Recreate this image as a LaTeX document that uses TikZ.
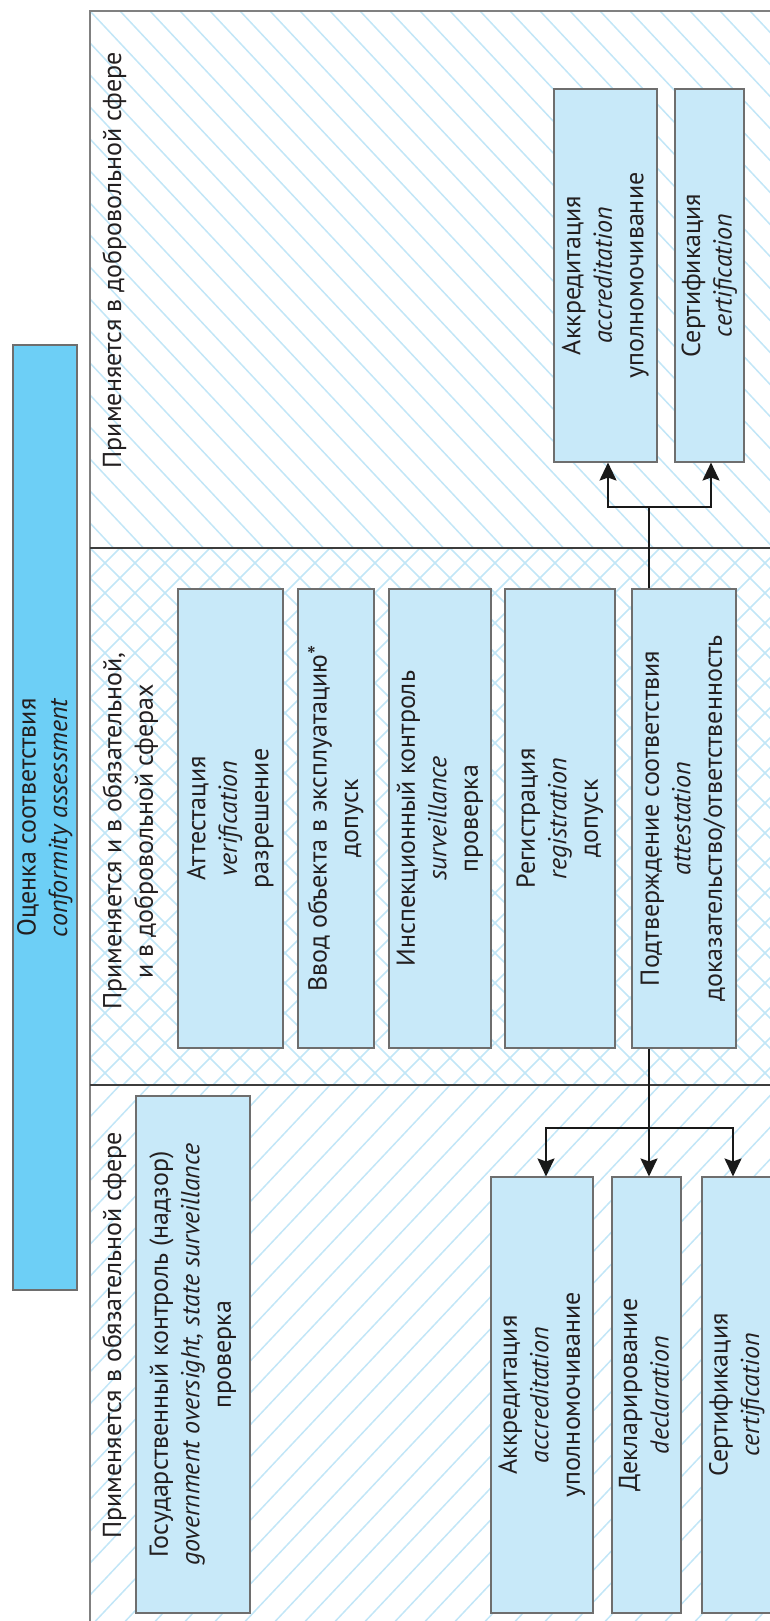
\documentclass[tikz,border=0pt]{standalone}
\usepackage{fontspec}
\setmainfont{PT Sans}
\usetikzlibrary{arrows.meta}

\definecolor{hatchblue}{HTML}{C2E6F7}
\definecolor{boxfill}{HTML}{C8E9F9}
\definecolor{boxline}{HTML}{6E6E6E}
\definecolor{titlefill}{HTML}{6DCFF6}
\definecolor{framegray}{HTML}{808080}
\definecolor{divider}{HTML}{3C3C3C}
\definecolor{ink}{HTML}{231F20}

% text set bottom-to-top, lines centred
\newcommand{\vtxt}[1]{\rotatebox{90}{\begin{tabular}{@{}c@{}}#1\end{tabular}}}

\begin{document}
\begin{tikzpicture}[x=1pt,y=-1pt,
  every node/.style={font=\fontsize{26}{31.5}\selectfont, text=ink},
  box/.style={draw=boxline, fill=boxfill, line width=1.1pt, inner sep=0pt},
  titlebox/.style={draw=boxline, fill=titlefill, line width=1.1pt, inner sep=0pt},
  bandlabel/.style={inner sep=0pt},
  hatch/.style={draw=hatchblue, line width=1.5pt},
  link/.style={draw=black!90, line width=2.2pt},
  arrowlink/.style={link, -{Stealth[length=18pt, width=17pt, inset=3pt]}}]

\useasboundingbox (0,0) rectangle (770,1621);
\clip (0,0) rectangle (770,1621);

% hatched bands
\begin{scope}
  \clip (90,11) rectangle (800,548);
  \foreach \k in {-600,-570,...,840} \draw[hatch] (\k,11) -- ++(600,640);
\end{scope}
\begin{scope}
  \clip (90,548) rectangle (800,1085);
  \foreach \k in {-600,-570,...,840} \draw[hatch] (\k,548) -- ++(620,620);
  \foreach \k in {60,90,...,1500} \draw[hatch] (\k,548) -- ++(-620,620);
\end{scope}
\begin{scope}
  \clip (90,1085) rectangle (800,1700);
  \foreach \k in {60,90,...,1500} \draw[hatch] (\k,1085) -- ++(-640,680);
\end{scope}

% frame and band dividers
\draw[framegray, line width=1.2pt] (800,11) -- (90,11) -- (90,1700);
\draw[divider, line width=1.2pt] (90,548) -- (800,548);
\draw[divider, line width=1.2pt] (90,1085) -- (800,1085);

% title
\node[titlebox, minimum width=64, minimum height=945] (title) at (45,817.5)
  {\vtxt{Оценка соответствия\\ \textit{conformity assessment}}};

% band captions
\node[bandlabel, anchor=north] (lvol) at (114.8,52)
  {\vtxt{Применяется в добровольной сфере}};
\node[bandlabel] (lboth) at (130.8,831)
  {\vtxt{Применяется и в обязательной,\\ и в добровольной сферах}};
\node[bandlabel, anchor=north] (lmand) at (114.8,1132)
  {\vtxt{Применяется в обязательной сфере}};

% junction points of the branching links
\coordinate (jt) at (649,507);
\coordinate (jb) at (649,1128);

% voluntary sphere
\node[box, minimum width=103, minimum height=373] (vacc) at (605.5,275.5)
  {\vtxt{Аккредитация\\ \textit{accreditation}\\ уполномочивание}};
\node[box, minimum width=69, minimum height=373] (vcert) at (709.5,275.5)
  {\vtxt{Сертификация\\ \textit{certification}}};

% both spheres
\node[box, minimum width=105, minimum height=459] (verif) at (230.5,818.5)
  {\vtxt{Аттестация\\ \textit{verification}\\ разрешение}};
\node[box, minimum width=76, minimum height=459] (commis) at (336,818.5)
  {\vtxt{Ввод объекта в эксплуатацию*\\ допуск}};
\node[box, minimum width=102, minimum height=459] (insp) at (440,818.5)
  {\vtxt{Инспекционный контроль\\ \textit{surveillance}\\ проверка}};
\node[box, minimum width=110, minimum height=459] (reg) at (560,818.5)
  {\vtxt{Регистрация\\ \textit{registration}\\ допуск}};
\node[box, minimum width=104, minimum height=459] (attest) at (684,818.5)
  {\vtxt{Подтверждение соответствия\\ \textit{attestation}\\ доказательство/ответственность}};

% mandatory sphere
\node[box, minimum width=114, minimum height=517] (gov) at (193,1354.5)
  {\vtxt{Государственный контроль (надзор)\\ \textit{government oversight, state surveillance}\\ проверка}};
\node[box, minimum width=102, minimum height=436] (macc) at (542,1395)
  {\vtxt{Аккредитация\\ \textit{accreditation}\\ уполномочивание}};
\node[box, minimum width=69, minimum height=436] (decl) at (646.5,1395)
  {\vtxt{Декларирование\\ \textit{declaration}}};
\node[box, minimum width=70, minimum height=436] (mcert) at (737,1395)
  {\vtxt{Сертификация\\ \textit{certification}}};

% links from the attestation box
\draw[link] ([xshift=-35pt]attest.north) -- (jt);
\draw[arrowlink] (jt) -| ([xshift=2.5pt]vacc.south);
\draw[arrowlink] (jt) -| ([xshift=1.5pt]vcert.south);
\draw[arrowlink] ([xshift=-35pt]attest.south) -- (jb |- decl.north);
\draw[arrowlink] (jb) -| ([xshift=4pt]macc.north);
\draw[arrowlink] (jb) -| ([xshift=-4pt]mcert.north);

\end{tikzpicture}
\end{document}
